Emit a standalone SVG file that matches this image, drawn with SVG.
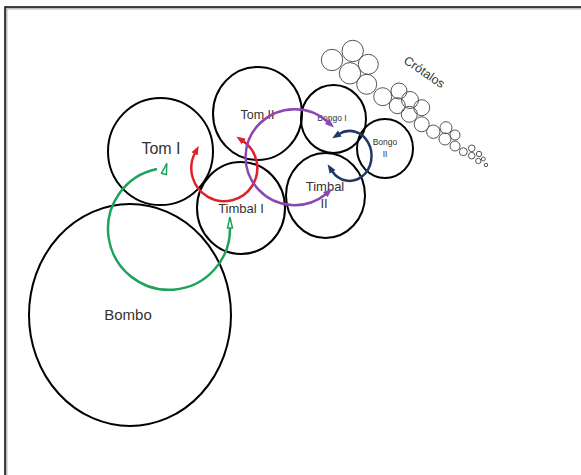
<svg xmlns="http://www.w3.org/2000/svg" width="581" height="475" viewBox="0 0 581 475">
<style>
.drum{fill:none;stroke:#000;stroke-width:2}
.cro{fill:none;stroke:#555;stroke-width:1}
.lbl{font-family:"Liberation Sans",Arial,sans-serif;fill:#333}
.arc{fill:none;stroke-width:2.5}
</style>
<defs>
<marker id="hG" markerUnits="userSpaceOnUse" markerWidth="14" markerHeight="10" refX="1" refY="5" orient="auto-start-reverse" viewBox="0 0 14 10"><path d="M1,5 L1,2.5 L12,5 L1,7.5 z" fill="#fff" stroke="#1fa35c" stroke-width="1.5"/></marker>
<marker id="hG0" markerUnits="userSpaceOnUse" markerWidth="14" markerHeight="10" refX="4" refY="-3" orient="-75" viewBox="0 0 14 10" overflow="visible"><path d="M1,5 L1,2.5 L12,5 L1,7.5 z" fill="#fff" stroke="#1fa35c" stroke-width="1.5"/></marker>
<marker id="hR" markerUnits="userSpaceOnUse" markerWidth="12" markerHeight="10" refX="1" refY="5" orient="auto-start-reverse" viewBox="0 0 12 10"><path d="M0,1.5 L9,5 L0,8.5 z" fill="#e0202a"/></marker>
<marker id="hP" markerUnits="userSpaceOnUse" markerWidth="12" markerHeight="10" refX="1" refY="5" orient="auto-start-reverse" viewBox="0 0 12 10"><path d="M0,1.5 L9,5 L0,8.5 z" fill="#8a46b4"/></marker>
<marker id="hB" markerUnits="userSpaceOnUse" markerWidth="12" markerHeight="10" refX="1" refY="5" orient="auto-start-reverse" viewBox="0 0 12 10"><path d="M0,1.5 L9,5 L0,8.5 z" fill="#1f3864"/></marker>
</defs>
<rect width="581" height="475" fill="#fff"/>
<path d="M6,600 L6,8 L700,8" fill="none" stroke="#bbb" stroke-width="3"/>
<path d="M5,600 L5,7 L700,7" fill="none" stroke="#111" stroke-width="1.5"/>

<g id="crotalos">
<circle class="cro" cx="332" cy="60" r="10.7"/>
<circle class="cro" cx="352.7" cy="51" r="10.7"/>
<circle class="cro" cx="368.3" cy="64.3" r="10"/>
<circle class="cro" cx="350" cy="73.3" r="10.7"/>
<circle class="cro" cx="366.7" cy="84.3" r="10"/>
<circle class="cro" cx="382.7" cy="96.7" r="9"/>
<circle class="cro" cx="399" cy="91" r="8"/>
<circle class="cro" cx="397.3" cy="105.7" r="8"/>
<circle class="cro" cx="410" cy="100" r="8.5"/>
<circle class="cro" cx="421.7" cy="107.7" r="8"/>
<circle class="cro" cx="409.3" cy="114.3" r="8"/>
<circle class="cro" cx="421.7" cy="124.3" r="7.5"/>
<circle class="cro" cx="433.3" cy="131.7" r="6.7"/>
<circle class="cro" cx="446" cy="127.7" r="6"/>
<circle class="cro" cx="445" cy="139" r="6"/>
<circle class="cro" cx="455" cy="135" r="5"/>
<circle class="cro" cx="455" cy="146" r="5"/>
<circle class="cro" cx="463.3" cy="151.7" r="4"/>
<circle class="cro" cx="471.7" cy="148.3" r="3.3"/>
<circle class="cro" cx="471.7" cy="155.7" r="3.3"/>
<circle class="cro" cx="479" cy="154" r="2.7"/>
<circle class="cro" cx="478.3" cy="161" r="2.7"/>
<circle class="cro" cx="483.3" cy="159" r="2"/>
<circle class="cro" cx="486" cy="165" r="1.7"/>
<text class="lbl" font-size="12.5" text-anchor="middle" fill="#222" transform="translate(422,75.5) rotate(34)">Crótalos</text>
</g>

<g id="bombo"><ellipse class="drum" cx="130" cy="315" rx="101" ry="111"/><text class="lbl" x="128" y="320" font-size="15" text-anchor="middle">Bombo</text></g>
<g id="tom1"><ellipse class="drum" cx="160.5" cy="151.5" rx="52.5" ry="53.5"/><text class="lbl" x="161" y="154" font-size="16" text-anchor="middle" fill="#111">Tom I</text></g>
<g id="tom2"><ellipse class="drum" cx="257.5" cy="113.5" rx="44.5" ry="46.5"/><text class="lbl" x="257.5" y="119" font-size="12.5" text-anchor="middle">Tom II</text></g>
<g id="timbal1"><ellipse class="drum" cx="241" cy="208" rx="44" ry="46"/><text class="lbl" x="241" y="213" font-size="13" text-anchor="middle">Timbal I</text></g>
<g id="bongo1"><ellipse class="drum" cx="333.5" cy="119" rx="32.5" ry="34"/><text class="lbl" x="332" y="121" font-size="8.5" text-anchor="middle">Bongo I</text></g>
<g id="timbal2"><ellipse class="drum" cx="325.5" cy="195.5" rx="39.5" ry="42.5"/><text class="lbl" x="325" y="191" font-size="13" text-anchor="middle">Timbal</text><text class="lbl" x="324" y="208" font-size="13" text-anchor="middle">II</text></g>
<g id="bongo2"><ellipse class="drum" cx="385" cy="148.5" rx="28" ry="29.5"/><text class="lbl" x="385" y="145" font-size="8.5" text-anchor="middle">Bongo</text><text class="lbl" x="385" y="157" font-size="8.5" text-anchor="middle">II</text></g>

<g id="connectors">
<path class="arc" stroke="#1fa35c" d="M157,169 A61,61 0 1 0 230,228" marker-start="url(#hG0)" marker-end="url(#hG)"/>
<path class="arc" stroke="#e0202a" d="M195,153 A33,33 0 1 0 243,141" marker-start="url(#hR)" marker-end="url(#hR)"/>
<path class="arc" stroke="#8a46b4" d="M328,122 A49,48 0 1 0 326,194" marker-start="url(#hP)" marker-end="url(#hP)"/>
<path class="arc" stroke="#1f3864" d="M339,134 A22,25 0 1 1 332,171" marker-start="url(#hB)" marker-end="url(#hB)"/>
</g>
</svg>
